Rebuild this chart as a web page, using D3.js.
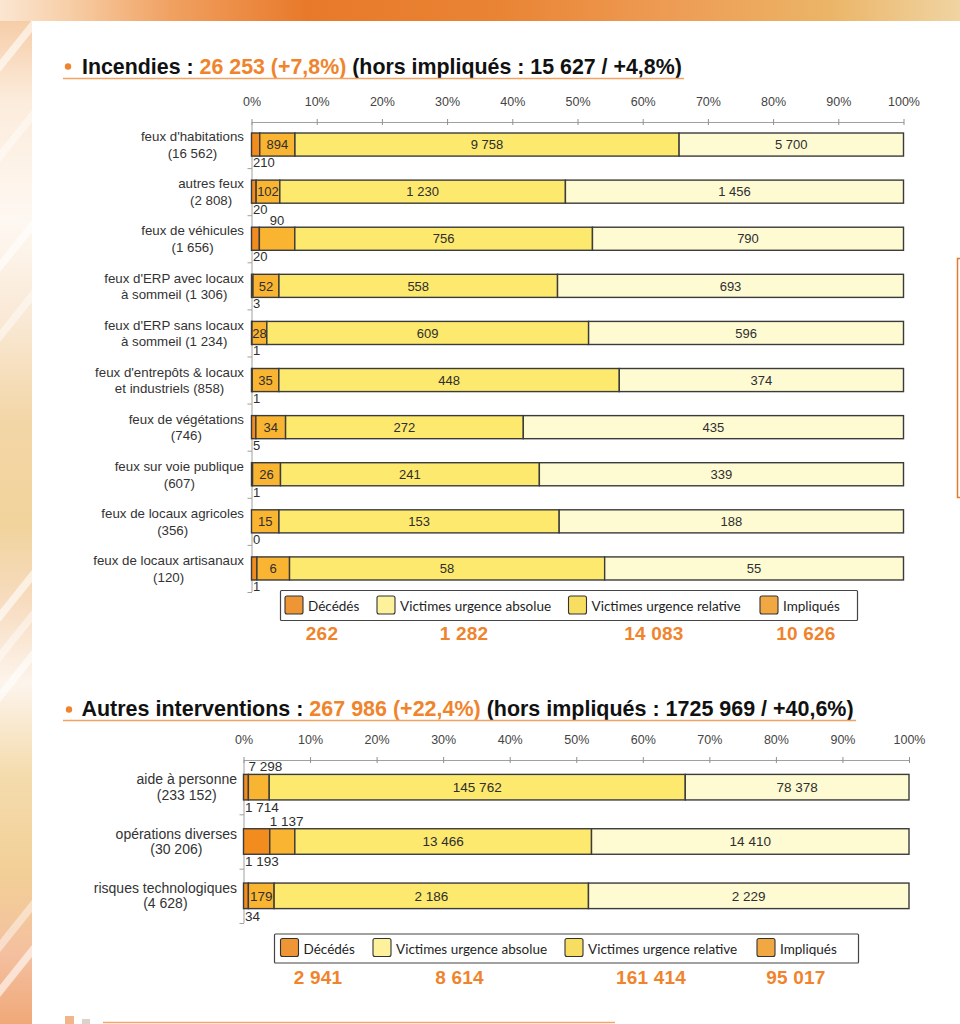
<!DOCTYPE html>
<html><head><meta charset="utf-8">
<script src="https://cdn.jsdelivr.net/npm/d3@7"></script>
<style>html,body{margin:0;padding:0;background:#fff;} svg{display:block;}</style>
</head><body><svg id="c" width="960" height="1024"></svg>
<script>
// ---------- DATA ----------
const seriesKeys = ["deces", "vua", "vur", "impl"];
const legendLabels = ["Décédés", "Victimes urgence absolue", "Victimes urgence relative", "Impliqués"];
const pctTicks = [0, 0.1, 0.2, 0.3, 0.4, 0.5, 0.6, 0.7, 0.8, 0.9, 1];

const fireLabels = [
  ["feux d'habitations", "(16 562)"],
  ["autres feux", "(2 808)"],
  ["feux de véhicules", "(1 656)"],
  ["feux d'ERP avec locaux", "à sommeil (1 306)"],
  ["feux d'ERP sans locaux", "à sommeil (1 234)"],
  ["feux d'entrepôts & locaux", "et industriels (858)"],
  ["feux de végétations", "(746)"],
  ["feux sur voie publique", "(607)"],
  ["feux de locaux agricoles", "(356)"],
  ["feux de locaux artisanaux", "(120)"]
];
const fireDeces = [210, 20, 20, 3, 1, 1, 5, 1, 0, 1];
const fireVUA   = [894, 102, 90, 52, 28, 35, 34, 26, 15, 6];
const fireVUR   = [9758, 1230, 756, 558, 609, 448, 272, 241, 153, 58];
const fireImpl  = [5700, 1456, 790, 693, 596, 374, 435, 339, 188, 55];
const fireVUAAbove = ["feux de véhicules"];

const otherLabels = [
  ["aide à personne", "(233 152)"],
  ["opérations diverses", "(30 206)"],
  ["risques technologiques", "(4 628)"]
];
const otherDeces = [1714, 1193, 34];
const otherVUA   = [7298, 1137, 179];
const otherVUR   = [145762, 13466, 2186];
const otherImpl  = [78378, 14410, 2229];
const otherVUAAbove = ["aide à personne", "opérations diverses"];

const title1 = [["Incendies : ", "k"], ["26 253 (+7,8%)", "o"], [" (hors impliqués : 15 627 / +4,8%)", "k"]];
const title2 = [["Autres interventions : ", "k"], ["267 986 (+22,4%)", "o"], [" (hors impliqués : 1725 969 / +40,6%)", "k"]];

// ---------- STYLE ----------
const barColors = {deces: "#f38c1f", vua: "#f9b532", vur: "#fde96d", impl: "#fefbd3"};
const legendColors = {deces: "#ee9536", vua: "#fdf19c", vur: "#f7de60", impl: "#f1a843"};
const ORANGE = "#f0842c";
const SANS = "'Liberation Sans', Arial, sans-serif";
const fmt = n => d3.format(",")(n).replace(/,/g, " ");

const svg = d3.select("#c");
const defs = svg.append("defs");

// ---------- BACKGROUND ----------
const gTop = defs.append("linearGradient").attr("id", "gTop").attr("x1", 0).attr("x2", 1).attr("y1", 0).attr("y2", 0);
[[0, "#fbe6d2"], [0.07, "#f7cfa8"], [0.18, "#f0a060"], [0.32, "#e8792a"], [0.52, "#e98434"], [0.7, "#ee9c55"], [0.86, "#ebb466"], [1, "#f0d4a2"]]
  .forEach(([o, c]) => gTop.append("stop").attr("offset", o).attr("stop-color", c));
svg.append("rect").attr("x", 0).attr("y", 0).attr("width", 960).attr("height", 21).attr("fill", "url(#gTop)");

const gLeft = defs.append("linearGradient").attr("id", "gLeft").attr("x1", 0).attr("x2", 0).attr("y1", 0).attr("y2", 1);
[[0, "#f6cda8"], [0.08, "#fcecdc"], [0.2, "#fef8f2"], [0.3, "#f9e8d4"], [0.4, "#f3d6a6"], [0.5, "#f1d39c"], [0.58, "#f7dcc0"], [0.66, "#fdf4ec"], [0.75, "#f4dcae"], [0.85, "#f2cf96"], [0.93, "#f4c0a0"], [1, "#f0a878"]]
  .forEach(([o, c]) => gLeft.append("stop").attr("offset", o).attr("stop-color", c));
svg.append("rect").attr("x", 0).attr("y", 21).attr("width", 32).attr("height", 1003).attr("fill", "url(#gLeft)");
defs.append("clipPath").attr("id", "clipLeft").append("rect").attr("x", 0).attr("y", 0).attr("width", 32).attr("height", 1024);
const stripes = svg.append("g").attr("clip-path", "url(#clipLeft)");
[60, 150, 260, 330, 610, 650, 690, 940, 985].forEach((yy, i) => {
  stripes.append("path").attr("d", `M0,${yy} L32,${yy - 40} L32,${yy - 28} L0,${yy + 12} Z`)
    .attr("fill", "#ffffff").attr("opacity", i % 2 ? 0.45 : 0.6);
});

// right partial box
svg.append("rect").attr("x", 957.5).attr("y", 258.5).attr("width", 30).attr("height", 239)
  .attr("fill", "none").attr("stroke", "#e27a30").attr("stroke-width", 1.5);
// bottom decorations
svg.append("rect").attr("x", 65).attr("y", 1016).attr("width", 9).attr("height", 8).attr("fill", "#f2b48a");
svg.append("rect").attr("x", 82).attr("y", 1019).attr("width", 8).attr("height", 5).attr("fill", "#dcd2ca");
svg.append("line").attr("x1", 103).attr("x2", 615).attr("y1", 1022.5).attr("y2", 1022.5).attr("stroke", "#f5a56a").attr("stroke-width", 1.5);

// ---------- TITLES ----------
function drawTitle(parts, x0, baseline, textRight, bulletX, bulletY, ulineY, ulineX1) {
  svg.append("circle").attr("cx", bulletX).attr("cy", bulletY).attr("r", 3.2).attr("fill", ORANGE);
  const g = svg.append("g");
  const t = g.append("text").attr("x", 0).attr("y", 0)
    .style("font-family", SANS).style("font-weight", "bold").style("font-size", "22.5px");
  parts.forEach(([s, c]) => t.append("tspan").attr("fill", c === "o" ? ORANGE : "#111").text(s));
  const w = t.node().getComputedTextLength();
  g.attr("transform", `translate(${x0},${baseline}) scale(${(textRight - x0) / w},1)`);
  svg.append("line").attr("x1", 63).attr("x2", ulineX1).attr("y1", ulineY).attr("y2", ulineY)
    .attr("stroke", "#f4a262").attr("stroke-width", 1.6);
}
drawTitle(title1, 82, 73.5, 682, 68, 66.5, 78.5, 684);
drawTitle(title2, 81.5, 715.5, 854, 69, 709.5, 720.5, 856);

// ---------- CHART ----------
function drawChart(o) {
  const rows = o.labels.map((l, i) => ({
    lines: l, name: l[0], deces: o.deces[i], vua: o.vua[i], vur: o.vur[i], impl: o.impl[i]
  }));
  const n = rows.length;
  const x = d3.scaleLinear([0, 1], [o.x0, o.x1]);
  const y = d3.scaleBand(d3.range(n), [o.yTop, o.yBot]).paddingInner(o.pad).paddingOuter(o.pad / 2);
  const stacked = d3.stack().keys(seriesKeys).offset(d3.stackOffsetExpand)(rows);

  // top axis
  const ax = svg.append("g").attr("transform", `translate(0,${o.axisY})`)
    .call(d3.axisTop(x).tickValues(pctTicks).tickFormat(d3.format(".0%"))
      .tickSize(3).tickSizeOuter(0).tickPadding(o.tickPad));
  ax.select(".domain").attr("stroke", "#a0a0a0");
  ax.selectAll(".tick line").attr("stroke", "#909090").attr("y1", 3);
  ax.selectAll(".tick text").style("font-family", SANS).style("font-size", o.tickFont + "px").attr("fill", "#444");

  // left axis
  svg.append("line").attr("x1", o.x0 + 0.5).attr("x2", o.x0 + 0.5).attr("y1", o.axisY).attr("y2", o.yTop + n * y.step())
    .attr("stroke", "#a0a0a0");
  svg.append("g").selectAll("line").data(d3.range(1, n + 1)).join("line")
    .attr("x1", o.x0 - 4).attr("x2", o.x0 + 0.5)
    .attr("y1", i => o.yTop + i * y.step() + 0.5).attr("y2", i => o.yTop + i * y.step() + 0.5)
    .attr("stroke", "#a0a0a0");

  // bars
  stacked.forEach(s => {
    svg.append("g").selectAll("rect").data(s).join("rect")
      .attr("x", d => x(d[0])).attr("width", d => x(d[1]) - x(d[0]))
      .attr("y", (d, i) => y(i)).attr("height", y.bandwidth())
      .attr("fill", barColors[s.key]).attr("stroke", "#3b3b3b").attr("stroke-width", 1.4);
  });

  // value labels
  const lab = svg.append("g").style("font-family", SANS).style("font-size", o.valFont + "px").attr("fill", "#2e2e2e");
  stacked.forEach(s => {
    s.forEach((d, i) => {
      const v = d.data[s.key];
      const cy = y(i) + y.bandwidth() / 2;
      const cx = (x(d[0]) + x(d[1])) / 2;
      if (s.key === "deces") {
        lab.append("text").attr("x", o.x0 + 1.5).attr("y", y(i) + y.bandwidth() + o.belowOff).text(fmt(v));
      } else if (s.key === "vua" && o.above.includes(d.data.name)) {
        const t = lab.append("text").attr("y", y(i) - o.aboveOff).text(fmt(v)).attr("text-anchor", "middle").attr("x", cx);
        const w = t.node().getComputedTextLength();
        if (cx - w / 2 < x(d[0])) t.attr("x", x(d[0]) + w / 2);
      } else {
        lab.append("text").attr("x", cx).attr("y", cy + o.valFont * 0.36).attr("text-anchor", "middle").text(fmt(v));
      }
    });
  });

  // category labels
  const cg = svg.append("g").style("font-family", SANS).style("font-size", o.catFont + "px").attr("fill", "#333");
  rows.forEach((r, i) => {
    const cy = y(i) + y.bandwidth() / 2;
    const ts = r.lines.map((s, k) => cg.append("text").attr("y", cy + o.lineOff[k]).text(s));
    const ws = ts.map(t => t.node().getComputedTextLength());
    const mw = Math.max(...ws);
    ts.forEach((t, k) => t.attr("x", o.labelRight - mw / 2).attr("text-anchor", "middle"));
  });

  // legend
  const L = o.legend;
  svg.append("rect").attr("x", L.x0 + 0.5).attr("y", L.y0 + 0.5).attr("width", L.x1 - L.x0).attr("height", L.y1 - L.y0)
    .attr("fill", "#fff").attr("stroke", "#444").attr("stroke-width", 1.2).attr("rx", 1);
  const sums = seriesKeys.map(k => d3.sum(rows, r => r[k]));
  seriesKeys.forEach((k, j) => {
    const sx = L.swX[j];
    svg.append("rect").attr("x", sx).attr("y", L.swY).attr("width", 18).attr("height", 18).attr("rx", 2)
      .attr("fill", legendColors[k]).attr("stroke", "#333").attr("stroke-width", 1.1);
    svg.append("text").attr("x", sx + 23).attr("y", L.textY).text(legendLabels[j])
      .style("font-family", "Lato, 'Open Sans', sans-serif").style("font-size", "13.5px").attr("fill", "#1e1e1e");
    svg.append("text").attr("x", L.totX[j]).attr("y", L.totY).attr("text-anchor", "middle").text(fmt(sums[j]))
      .style("font-family", SANS).style("font-weight", "bold").style("font-size", "19px")
      .style("letter-spacing", "0.2px").attr("fill", ORANGE);
  });
}

drawChart({
  labels: fireLabels, deces: fireDeces, vua: fireVUA, vur: fireVUR, impl: fireImpl, above: fireVUAAbove,
  x0: 251.5, x1: 903.5, axisY: 122, tickPad: 13, tickFont: 12.5,
  yTop: 121, yBot: 592, pad: 0.51,
  valFont: 13, catFont: 13.3, belowOff: 11, aboveOff: 2,
  labelRight: 244, lineOff: [-3.3, 13.3],
  legend: {x0: 280, x1: 857, y0: 590, y1: 620, swX: [285, 377, 568.5, 760], swY: 596, textY: 610.5,
           totX: [322, 464, 654, 806], totY: 640}
});
drawChart({
  labels: otherLabels, deces: otherDeces, vua: otherVUA, vur: otherVUR, impl: otherImpl, above: otherVUAAbove,
  x0: 243.5, x1: 909, axisY: 760, tickPad: 13.5, tickFont: 12.5,
  yTop: 760, yBot: 923, pad: 0.53,
  valFont: 13.5, catFont: 14, belowOff: 12, aboveOff: 3,
  labelRight: 237, lineOff: [-2.8, 12.6],
  legend: {x0: 274, x1: 858, y0: 933.5, y1: 962.5, swX: [280.5, 373, 565, 757], swY: 938.5, textY: 953.5,
           totX: [318, 459.5, 651, 796], totY: 984}
});
</script></body></html>
